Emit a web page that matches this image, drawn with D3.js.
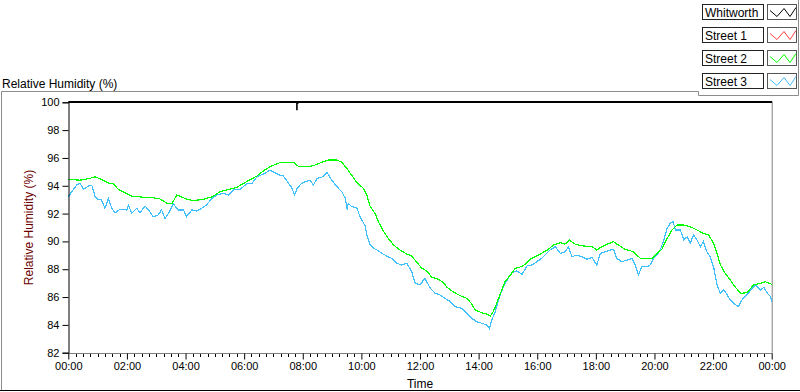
<!DOCTYPE html>
<html>
<head>
<meta charset="utf-8">
<script src="https://cdn.jsdelivr.net/npm/d3@7"></script>
<style>
  html, body { margin: 0; padding: 0; background: #fff; }
  svg { display: block; }
  text { font-family: "Liberation Sans", Arial, sans-serif; }
</style>
</head>
<body>
<svg id="chart" width="800" height="392"></svg>
<script>
// ---------- data ----------
const seriesNames = ["Whitworth", "Street 1", "Street 2", "Street 3"];
const seriesColors = ["#000000", "#ff4040", "#00ff00", "#40bfff"];

const yTickValues = [82, 84, 86, 88, 90, 92, 94, 96, 98, 100];
const xTickMinutes = [0, 120, 240, 360, 480, 600, 720, 840, 960, 1080, 1200, 1320, 1440];

// Street 2 (green): minutes after midnight, relative humidity (%)
const street2Minutes = [0,24,44,55,65,75,85,92,102,116,130,147,161,171,188,202,212,222,242,256,276,294,311,324,345,365,386,399,413,433,461,471,492,505,519,532,550,560,570,580,591,604,611,618,628,635,645,655,666,679,693,703,714,724,734,744,758,768,775,788,802,816,826,833,847,857,864,870,877,884,894,905,915,929,939,946,966,983,993,1007,1017,1026,1038,1055,1072,1082,1092,1103,1116,1126,1140,1157,1171,1185,1195,1205,1215,1226,1236,1246,1260,1273,1287,1300,1311,1321,1328,1335,1345,1355,1365,1376,1389,1403,1417,1427,1440];
const street2RH = [94.46,94.4,94.53,94.65,94.49,94.34,94.13,94.17,93.75,93.5,93.26,93.2,93.14,93.16,93.05,92.74,92.7,93.34,93.05,92.93,93.03,93.2,93.57,93.7,93.89,94.3,94.7,95.06,95.37,95.66,95.69,95.4,95.37,95.49,95.69,95.85,95.85,95.69,95.25,94.77,94.22,93.82,93.34,92.5,92.02,91.4,90.75,90.22,89.74,89.38,89.09,88.95,88.47,88.07,87.87,87.42,87.28,87.03,86.7,86.38,86.1,85.91,85.5,85.07,84.87,84.78,84.64,84.95,85.55,86.2,87.1,87.58,88.07,88.2,88.47,88.72,89.09,89.43,89.74,89.91,89.81,90.1,89.79,89.67,89.62,89.38,89.62,89.79,89.98,89.74,89.43,89.26,88.78,88.76,88.78,89.14,89.43,90.22,90.82,91.18,91.18,91.06,90.82,90.58,90.46,89.86,89.14,88.3,87.7,87.23,86.74,86.27,86.31,86.87,86.99,87.1,86.92];

// Street 3 (light blue)
const street3Minutes = [0,7,17,24,31,41,48,55,61,68,75,82,89,96,106,120,123,130,140,147,157,164,174,184,191,198,205,215,225,236,242,253,263,273,283,294,304,317,328,338,352,365,376,386,393,403,413,423,433,440,451,458,463,469,478,485,495,502,509,519,530,539,550,560,567,571,573,580,591,597,608,611,618,625,632,642,652,662,673,683,693,703,710,720,730,741,751,761,771,782,792,806,816,826,836,847,857,862,867,874,881,891,898,908,918,929,939,949,959,969,976,986,997,1007,1017,1024,1031,1041,1051,1062,1072,1082,1089,1099,1109,1116,1123,1133,1144,1154,1161,1167,1174,1185,1191,1198,1205,1212,1219,1226,1232,1238,1243,1253,1260,1267,1273,1280,1287,1294,1300,1307,1314,1321,1328,1335,1342,1349,1355,1362,1372,1379,1389,1400,1407,1417,1424,1431,1438,1440];
const street3RH = [93.21,93.57,94.05,94.18,93.75,93.98,94.05,93.21,93.03,92.98,92.38,93.1,92.38,92.06,92.31,92.26,92.62,92.02,92.38,92.06,92.55,92.26,91.78,91.9,92.26,91.66,92.02,92.69,92.26,92.26,91.78,92.26,92.18,92.38,92.62,93.1,93.34,93.46,93.34,93.7,93.75,94.13,94.18,94.65,94.75,94.9,95.13,94.94,94.77,94.7,94.18,93.82,93.34,93.85,94.18,94.29,94.41,94.05,94.53,94.61,94.94,94.41,93.93,93.57,93.1,92.26,92.74,92.5,92.4,91.78,91.1,90.5,89.74,89.5,89.38,89.14,88.95,88.78,88.43,88.3,88.43,87.82,86.99,86.87,87.35,86.63,86.27,86.15,85.91,85.67,85.31,85.19,84.83,84.47,84.23,84.11,83.99,83.75,84.35,84.95,85.85,86.74,87.2,87.76,87.88,87.64,88.24,88.3,88.54,88.78,89.02,89.38,89.62,89.14,89.26,89.62,88.9,89.02,88.9,88.71,88.86,88.3,89.14,89.26,89.38,89.43,88.78,88.54,88.66,88.78,88.3,87.58,88.18,88.18,88.3,88.78,89.02,89.38,90.1,90.94,91.3,91.42,90.82,90.82,90.1,90.34,89.86,90.46,90.1,89.62,89.98,89.26,88.9,88.18,86.87,86.27,86.51,86.15,85.79,85.55,85.31,85.79,86.15,86.63,86.87,86.51,86.7,86.27,86.03,85.67];

// ---------- chart ----------
const svg = d3.select("#chart");
const plot = { left: 68.3, right: 771.7, top: 102.3, bottom: 352.7 };

const x = d3.scaleLinear().domain([0, 1440]).range([plot.left, plot.right]);
const y = d3.scaleLinear().domain([82, 100]).range([plot.bottom, plot.top]);

// outer frame
svg.append("path")
  .attr("d", "M1.5,390 L1.5,91.5 L698.5,91.5 L698.5,95.5 L798.5,95.5 L798.5,0")
  .attr("fill", "none").attr("stroke", "#8c8c8c").attr("stroke-width", 1);
svg.append("line").attr("x1", 0).attr("x2", 800).attr("y1", 390.5).attr("y2", 390.5)
  .attr("stroke", "#000").attr("stroke-width", 1);

// title
svg.append("text").attr("x", 2).attr("y", 88).attr("font-size", 12).attr("fill", "#000")
  .text("Relative Humidity (%)");

// plot border: right & bottom gray
svg.append("line").attr("x1", x(1440) + 0.5).attr("x2", x(1440) + 0.5)
  .attr("y1", plot.top).attr("y2", plot.bottom).attr("stroke", "#808080");
svg.append("line").attr("x1", plot.left).attr("x2", x(1440) + 1)
  .attr("y1", Math.round(plot.bottom) + 0.5).attr("y2", Math.round(plot.bottom) + 0.5).attr("stroke", "#808080");

// lines
const line = d3.line()
  .x(d => x(d[0]))
  .y(d => y(d[1]));

const s2 = street2Minutes.map((m, i) => [m, street2RH[i]]);
const s3 = street3Minutes.map((m, i) => [m, street3RH[i]]);

svg.append("path").datum(s3).attr("d", line)
  .attr("fill", "none").attr("stroke", seriesColors[3]).attr("stroke-width", 1.2)
  .attr("shape-rendering", "crispEdges");
svg.append("path").datum(s2).attr("d", line)
  .attr("fill", "none").attr("stroke", seriesColors[2]).attr("stroke-width", 1.2)
  .attr("shape-rendering", "crispEdges");

// y axis
const yAxis = d3.axisLeft(y).tickValues(yTickValues).tickSize(6).tickPadding(3).tickFormat(d3.format("d"));
const gy = svg.append("g").attr("transform", `translate(${Math.round(plot.left) + 0.5},0)`).call(yAxis);
gy.select(".domain").attr("stroke", "#000");
gy.selectAll(".tick line").attr("stroke", "#000");
gy.selectAll("text").attr("font-size", 11).attr("fill", "#000")
  .attr("font-family", "'Liberation Sans', Arial, sans-serif");

// x axis minor ticks (every 15 min)
const minorTicks = d3.range(0, 1441, 15).filter(m => m % 120 !== 0);
svg.append("g").selectAll("line").data(minorTicks).join("line")
  .attr("x1", d => Math.round(x(d)) + 0.5).attr("x2", d => Math.round(x(d)) + 0.5)
  .attr("y1", Math.round(plot.bottom) + 1).attr("y2", Math.round(plot.bottom) + 4)
  .attr("stroke", "#000");

// x axis major
const fmt = m => {
  const h = Math.floor((m % 1440) / 60), mm = m % 60;
  return String(h).padStart(2, "0") + ":" + String(mm).padStart(2, "0");
};
const xAxis = d3.axisBottom(x).tickValues(xTickMinutes).tickSize(6).tickPadding(3).tickFormat(fmt);
const gx = svg.append("g").attr("transform", `translate(0,${Math.round(plot.bottom) + 0.5})`).call(xAxis);
gx.select(".domain").remove();
gx.selectAll(".tick line").attr("stroke", "#000");
gx.selectAll("text").attr("font-size", 11).attr("fill", "#000")
  .attr("font-family", "'Liberation Sans', Arial, sans-serif");

// top border (thick black)
svg.append("line").attr("x1", plot.left).attr("x2", x(1440) + 0.5)
  .attr("y1", plot.top - 0.3).attr("y2", plot.top - 0.3).attr("stroke", "#000").attr("stroke-width", 2);

// cursor mark
svg.append("path").attr("d", `M${x(467) + 0.5},${plot.top} L${x(467) + 0.5},${plot.top + 8} M${x(467) + 0.5},${plot.top + 1} L${x(467) + 2},${plot.top + 1}`)
  .attr("stroke", "#000").attr("stroke-width", 1.6).attr("fill", "none");

// axis titles
svg.append("text").attr("x", (plot.left + plot.right) / 2).attr("y", 388)
  .attr("text-anchor", "middle").attr("font-size", 12).attr("fill", "#000").text("Time");
svg.append("text").attr("transform", `translate(33,${(plot.top + plot.bottom) / 2}) rotate(-90)`)
  .attr("text-anchor", "middle").attr("font-size", 12).attr("fill", "#6b0000").text("Relative Humidity (%)");

// legend
const leg = svg.append("g");
seriesNames.forEach((name, i) => {
  const ty = 4.5 + i * 23;
  leg.append("rect").attr("x", 702.5).attr("y", ty).attr("width", 61).attr("height", 15)
    .attr("fill", "#fff").attr("stroke", "#222");
  leg.append("text").attr("x", 705).attr("y", ty + 12).attr("font-size", 12).attr("fill", "#000").text(name);
  leg.append("rect").attr("x", 767.5).attr("y", ty).attr("width", 29).attr("height", 15)
    .attr("fill", "#fff").attr("stroke", "#555");
  const sx = 769, sy = ty;
  leg.append("path")
    .attr("d", `M${sx + 1},${sy + 6} L${sx + 8},${sy + 12} L${sx + 15},${sy + 4} L${sx + 21},${sy + 12} L${sx + 27},${sy + 3}`)
    .attr("fill", "none").attr("stroke", seriesColors[i]).attr("stroke-width", 1);
});
</script>
</body>
</html>
